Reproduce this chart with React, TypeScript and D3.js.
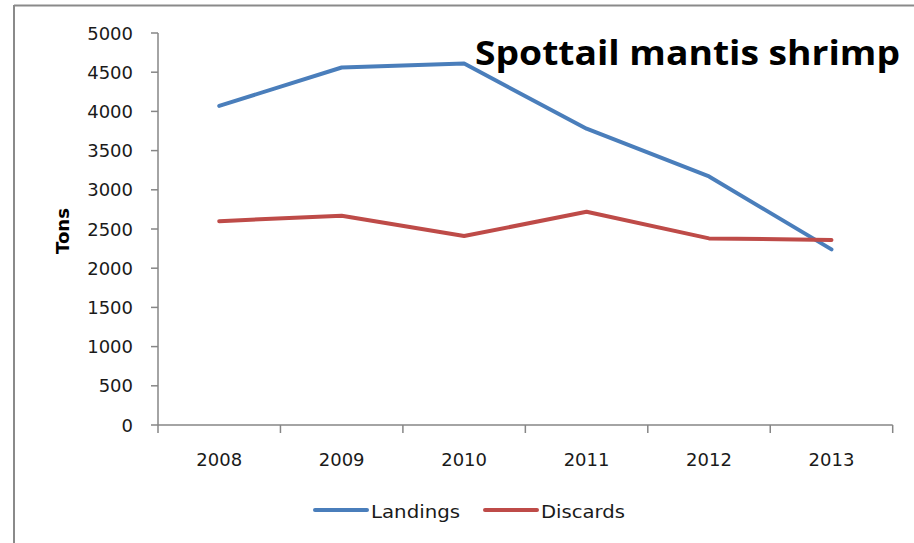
import React from "react";
import * as d3 from "d3";

const years = ["2008", "2009", "2010", "2011", "2012", "2013"];
const landings = [4070, 4560, 4610, 3780, 3170, 2240];
const discards = [2600, 2670, 2410, 2720, 2380, 2360];
const yTicks = [0, 500, 1000, 1500, 2000, 2500, 3000, 3500, 4000, 4500, 5000];
const seriesNames = ["Landings", "Discards"];
const title = "Spottail mantis shrimp";
const yTitle = "Tons";

const W = 914;
const H = 543;
const left = 158;
const right = 892.7;
const top = 33;
const bottom = 425;
const colors = ["#4a7ebb", "#be4b48"];
const axisColor = "#868686";
const font = "'DejaVu Sans', Verdana, sans-serif";

export default function App() {
  const x = d3.scaleBand<string>().domain(years).range([left, right]).padding(0);
  const y = d3.scaleLinear().domain([0, 5000]).range([bottom, top]);
  const cx = (yr: string) => (x(yr) as number) + x.bandwidth() / 2;
  const line = d3
    .line<number>()
    .x((_, i) => cx(years[i]))
    .y((d) => y(d));
  const series = [landings, discards];
  const boundaries = [...years.map((yr) => x(yr) as number), right];

  const legendItems = [
    { lx1: 315, lx2: 367, tx: 371 },
    { lx1: 485, lx2: 537, tx: 541 },
  ];

  return (
    <svg
      width={W}
      height={H}
      style={{ position: "absolute", left: 0, top: 0, background: "#fff" }}
      fontFamily={font}
    >
      <rect x={0} y={0} width={W} height={H} fill="#fff" />
      {/* outer border */}
      <line x1={14} y1={5.5} x2={W} y2={5.5} stroke="#8a8a8a" strokeWidth={2} />
      <line x1={14} y1={5} x2={14} y2={H} stroke="#8a8a8a" strokeWidth={2} />

      {/* y axis */}
      <line x1={left} y1={top} x2={left} y2={bottom} stroke={axisColor} strokeWidth={1.5} />
      {yTicks.map((t) => (
        <g key={t}>
          <line x1={left - 7} x2={left} y1={y(t)} y2={y(t)} stroke={axisColor} strokeWidth={1.5} />
          <text
            x={133}
            y={y(t)}
            textAnchor="end"
            dominantBaseline="central"
            fontSize={18}
            fill="#1a1a1a"
          >
            {t}
          </text>
        </g>
      ))}

      {/* x axis */}
      <line x1={left} y1={bottom} x2={right} y2={bottom} stroke={axisColor} strokeWidth={1.5} />
      {boundaries.map((b, i) => (
        <line key={i} x1={b} x2={b} y1={bottom} y2={bottom + 8} stroke={axisColor} strokeWidth={1.5} />
      ))}
      {years.map((yr) => (
        <text
          key={yr}
          x={cx(yr)}
          y={459}
          textAnchor="middle"
          dominantBaseline="central"
          fontSize={18}
          fill="#1a1a1a"
        >
          {yr}
        </text>
      ))}

      {/* y title */}
      <text
        transform="translate(63,231) rotate(-90)"
        textAnchor="middle"
        dominantBaseline="central"
        fontSize={17}
        fontWeight="bold"
        fill="#000"
        textLength={46}
        lengthAdjust="spacingAndGlyphs"
      >
        {yTitle}
      </text>

      {/* lines */}
      {series.map((s, i) => (
        <path
          key={i}
          d={line(s) as string}
          fill="none"
          stroke={colors[i]}
          strokeWidth={4}
          strokeLinejoin="round"
          strokeLinecap="round"
        />
      ))}

      {/* title */}
      <text
        x={475}
        y={65}
        fontSize={34}
        fontWeight="bold"
        fill="#000"
        fontFamily="'Open Sans', sans-serif"
        textLength={425}
        lengthAdjust="spacingAndGlyphs"
      >
        {title}
      </text>

      {/* legend */}
      {legendItems.map((it, i) => (
        <g key={i}>
          <line
            x1={it.lx1}
            x2={it.lx2}
            y1={510}
            y2={510}
            stroke={colors[i]}
            strokeWidth={4}
            strokeLinecap="round"
          />
          <text
            x={it.tx}
            y={511}
            dominantBaseline="central"
            fontSize={18}
            fill="#1a1a1a"
            textLength={i === 0 ? 89 : 84}
            lengthAdjust="spacingAndGlyphs"
          >
            {seriesNames[i]}
          </text>
        </g>
      ))}
    </svg>
  );
}
